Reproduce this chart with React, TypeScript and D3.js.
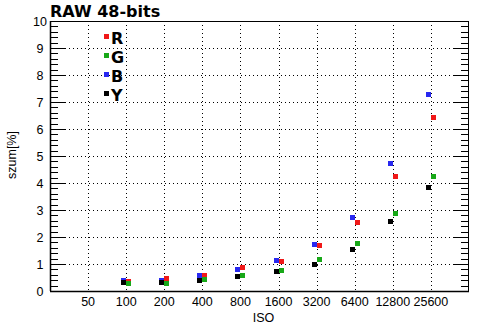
import React from "react";
import * as d3 from "d3";

const isoLabels = ["50", "100", "200", "400", "800", "1600", "3200", "6400", "12800", "25600"];
const isoValues = [100, 200, 400, 800, 1600, 3200, 6400, 12800, 25600];
const seriesR = [0.35, 0.46, 0.59, 0.87, 1.10, 1.69, 2.54, 4.25, 6.43];
const seriesG = [0.28, 0.28, 0.43, 0.57, 0.77, 1.17, 1.77, 2.88, 4.25];
const seriesB = [0.39, 0.39, 0.59, 0.80, 1.14, 1.73, 2.72, 4.73, 7.28];
const seriesY = [0.31, 0.31, 0.39, 0.54, 0.73, 0.98, 1.54, 2.58, 3.84];
const yTicks = [0, 1, 2, 3, 4, 5, 6, 7, 8, 9, 10];

const series = [
  { name: "R", values: seriesR, color: "#f01818", side: 1 },
  { name: "G", values: seriesG, color: "#18a818", side: 1 },
  { name: "B", values: seriesB, color: "#2828f0", side: -1 },
  { name: "Y", values: seriesY, color: "#000000", side: -1 },
];

export default function App() {
  const W = 494, H = 331;
  const left = 50, right = 469, top = 21, bottom = 291;
  const x = d3.scaleLog().base(2).domain([25, 51200]).range([left, right]);
  const y = d3.scaleLinear().domain([0, 10]).range([bottom, top]);
  const minor = d3.range(0, 10.001, 0.2).map((v) => Math.round(v * 10) / 10);
  const sq = 5;
  const tickFont = "'Liberation Sans', Arial, sans-serif";
  const boldFont = "'DejaVu Sans', sans-serif";

  return (
    <svg width={W} height={H} style={{ position: "absolute", left: 0, top: 0, background: "#fff" }}>
      <rect x={0} y={0} width={W} height={H} fill="#fff" />
      <text x={50} y={17} fontFamily={boldFont} fontWeight="bold" fontSize={16} fill="#000">
        RAW 48-bits
      </text>
      {/* vertical dotted grid */}
      {isoLabels.map((l) => (
        <line key={"vg" + l} x1={Math.round(x(+l)) + 0.5} x2={Math.round(x(+l)) + 0.5} y1={top} y2={bottom}
          stroke="#000" strokeWidth={1} strokeDasharray="1,3" />
      ))}
      {/* horizontal dotted grid */}
      {yTicks.slice(1, -1).map((t) => (
        <line key={"hg" + t} x1={left + 15} x2={right - 15} y1={Math.round(y(t)) + 0.5} y2={Math.round(y(t)) + 0.5}
          stroke="#000" strokeWidth={1} strokeDasharray="1,3" />
      ))}
      {/* frame */}
      <rect x={left + 0.5} y={top + 0.5} width={right - left - 1} height={bottom - top} fill="none" stroke="#000" strokeWidth={1} />
      <line x1={left} x2={right} y1={bottom + 0.5} y2={bottom + 0.5} stroke="#000" strokeWidth={1.5} />
      <line x1={left + 0.5} x2={left + 0.5} y1={top} y2={bottom} stroke="#000" strokeWidth={1.5} />
      {/* ticks */}
      {minor.map((t) => {
        const major = Math.abs(t - Math.round(t)) < 1e-6;
        const len = major ? 15 : 8;
        const yy = Math.round(y(t)) + 0.5;
        return (
          <g key={"tk" + t}>
            <line x1={left} x2={left + len} y1={yy} y2={yy} stroke="#000" strokeWidth={1} />
            <line x1={right - len} x2={right} y1={yy} y2={yy} stroke="#000" strokeWidth={1} />
          </g>
        );
      })}
      {/* y labels */}
      {yTicks.map((t) => (
        <text key={"yl" + t} x={40} y={y(t) + 4.5} textAnchor="middle" fontFamily={tickFont} fontSize={12.5} fill="#000">
          {t}
        </text>
      ))}
      {/* x labels */}
      {isoLabels.map((l) => (
        <text key={"xl" + l} x={x(+l)} y={305.5} textAnchor="middle" fontFamily={tickFont} fontSize={12.5} fill="#000">
          {l}
        </text>
      ))}
      <text x={263.5} y={322} textAnchor="middle" fontFamily={tickFont} fontSize={12.5} fill="#000">ISO</text>
      <text transform="translate(15.5,155) rotate(-90)" textAnchor="middle" fontFamily={tickFont} fontSize={12.5} fill="#000">
        szum[%]
      </text>
      {/* data */}
      {series.map((s) => (
        <g key={s.name}>
          {s.values.map((v, i) => {
            const cx = Math.round(x(isoValues[i]));
            const px = s.side > 0 ? cx : cx - sq;
            return <rect key={i} x={px} y={Math.round(y(v) - sq / 2)} width={sq} height={sq} fill={s.color} />;
          })}
        </g>
      ))}
      {/* legend */}
      {series.map((s, i) => (
        <g key={"lg" + s.name}>
          <rect x={104} y={44 + i * 19 - 10} width={sq} height={sq} fill={s.color} />
          <text x={111} y={44 + i * 19} fontFamily={boldFont} fontWeight="bold" fontSize={16} fill="#000">
            {s.name}
          </text>
        </g>
      ))}
    </svg>
  );
}
